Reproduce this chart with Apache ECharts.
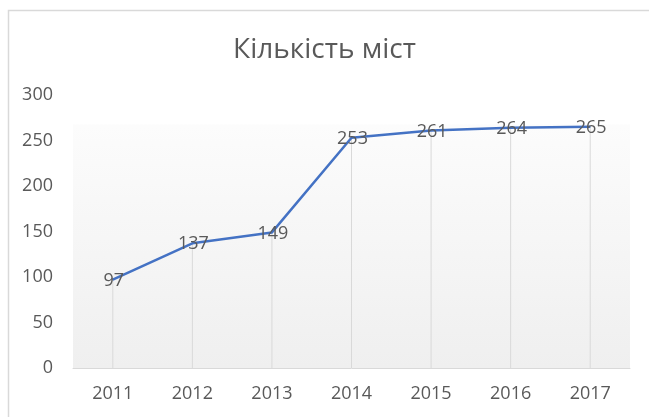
<!DOCTYPE html>
<html>
<head>
<meta charset="utf-8">
<script src="https://cdn.jsdelivr.net/npm/echarts@6/dist/echarts.min.js"></script>
<style>html,body{margin:0;padding:0;background:#fff}#c{width:649px;height:417px}</style>
</head>
<body>
<div id="c"></div>
<script>
const title = "Кількість міст";
const categories = ["2011", "2012", "2013", "2014", "2015", "2016", "2017"];
const values = [97, 137, 149, 253, 261, 264, 265];
const yTicks = [0, 50, 100, 150, 200, 250, 300];

const chart = echarts.init(document.getElementById('c'));
const font = "'Open Sans', 'Noto Sans', sans-serif";
chart.setOption({
  animation: false,
  backgroundColor: '#fff',
  title: {
    text: title, left: 'center', top: 31,
    textStyle: {fontFamily: font, fontSize: 28, fontWeight: 'normal', color: '#595959'}
  },
  graphic: [{
    type: 'rect', left: 6, top: 8, silent: true, z: -10,
    shape: {width: 660, height: 430},
    style: {fill: 'none', stroke: '#d9d9d9', lineWidth: 1.5}
  }],
  grid: {
    left: 73, right: 19, top: 95, bottom: 49,
    show: true, borderWidth: 0,
    backgroundColor: new echarts.graphic.LinearGradient(0, 0, 0, 1, [
      {offset: 0, color: '#ffffff'},
      {offset: 0.105, color: '#ffffff'},
      {offset: 0.11, color: '#fcfcfc'},
      {offset: 1, color: '#efefef'}
    ])
  },
  xAxis: {
    type: 'category', data: categories, boundaryGap: true,
    axisLine: {show: true, lineStyle: {color: '#d9d9d9', width: 1}},
    axisTick: {show: false},
    axisLabel: {fontFamily: font, fontSize: 18, color: '#595959', margin: 17},
    splitLine: {show: false}
  },
  yAxis: {
    type: 'value', min: yTicks[0], max: yTicks[yTicks.length - 1], interval: 50,
    axisLine: {show: false}, axisTick: {show: false},
    axisLabel: {fontFamily: font, fontSize: 18, color: '#595959', margin: 20},
    splitLine: {show: false}
  },
  series: [{
    type: 'bar', data: values, barWidth: 1, silent: true,
    itemStyle: {color: '#d9d9d9'}, z: 1
  }, {
    type: 'line', data: values, z: 3,
    symbol: 'circle', symbolSize: 1,
    itemStyle: {color: '#4472c4'},
    lineStyle: {color: '#4472c4', width: 2.5},
    label: {
      show: true, position: 'inside', offset: [1, 1],
      fontFamily: font, fontSize: 18, color: '#595959'
    }
  }]
});
</script>
</body>
</html>
